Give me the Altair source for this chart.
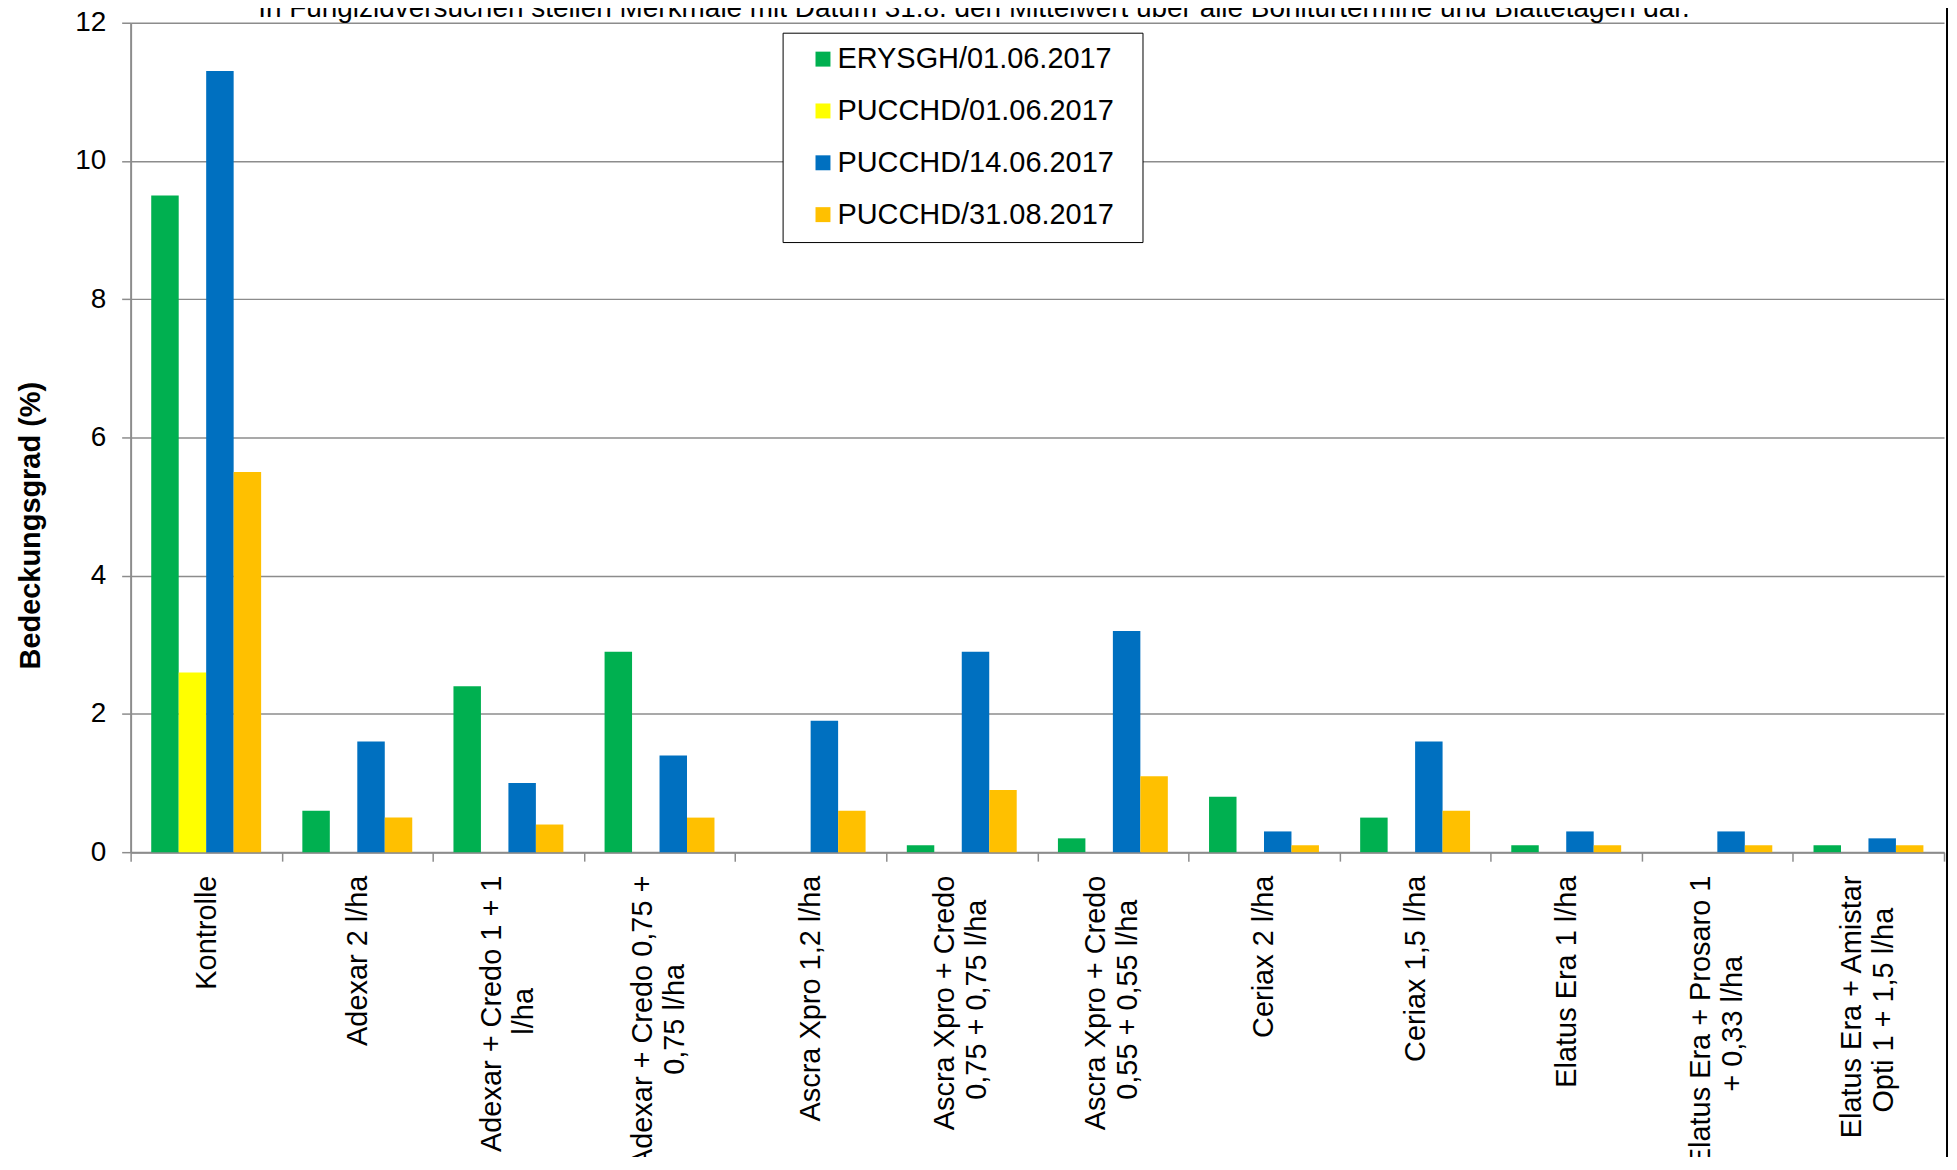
import json
import altair as alt
import pandas as pd

FONT = "Liberation Sans"
GRID = "#8C8C8C"
NB = "\u00a0"
ZW = "\u200b"

TITLE = ("In Fungizidversuchen stellen Merkmale mit Datum 31.8. den Mittelwert "
         "über alle Boniturtermine und Blattetagen dar.")

categories = [
    "Kontrolle",
    "Adexar 2 l/ha",
    "Adexar + Credo 1 + 1 l/ha",
    "Adexar + Credo 0,75 + 0,75 l/ha",
    "Ascra Xpro 1,2 l/ha",
    "Ascra Xpro + Credo 0,75 + 0,75 l/ha",
    "Ascra Xpro + Credo 0,55 + 0,55 l/ha",
    "Ceriax 2 l/ha",
    "Ceriax 1,5 l/ha",
    "Elatus Era 1 l/ha",
    "Elatus Era + Prosaro 1 + 0,33 l/ha",
    "Elatus Era + Amistar Opti 1 + 1,5 l/ha",
]
label_lines = [
    ["Kontrolle"],
    ["Adexar 2 l/ha"],
    ["Adexar + Credo 1 + 1", "l/ha"],
    ["Adexar + Credo 0,75 +", "0,75 l/ha"],
    ["Ascra Xpro 1,2 l/ha"],
    ["Ascra Xpro + Credo", "0,75 + 0,75 l/ha"],
    ["Ascra Xpro + Credo", "0,55 + 0,55 l/ha"],
    ["Ceriax 2 l/ha"],
    ["Ceriax 1,5 l/ha"],
    ["Elatus Era 1 l/ha"],
    ["Elatus Era + Prosaro 1", "+ 0,33 l/ha"],
    ["Elatus Era + Amistar", "Opti 1 + 1,5 l/ha"],
]
series = ["ERYSGH/01.06.2017", "PUCCHD/01.06.2017", "PUCCHD/14.06.2017", "PUCCHD/31.08.2017"]
colors = ["#00B050", "#FFFF00", "#0070C0", "#FFC000"]

erysgh_0106 = [9.5, 0.6, 2.4, 2.9, 0.0, 0.1, 0.2, 0.8, 0.5, 0.1, 0.0, 0.1]
pucchd_0106 = [2.6, 0.0, 0.0, 0.0, 0.0, 0.0, 0.0, 0.0, 0.0, 0.0, 0.0, 0.0]
pucchd_1406 = [11.3, 1.6, 1.0, 1.4, 1.9, 2.9, 3.2, 0.3, 1.6, 0.3, 0.3, 0.2]
pucchd_3108 = [5.5, 0.5, 0.4, 0.5, 0.6, 0.9, 1.1, 0.1, 0.6, 0.1, 0.1, 0.1]

rows = []
for s, vals in zip(series, [erysgh_0106, pucchd_0106, pucchd_1406, pucchd_3108]):
    for c, v in zip(categories, vals):
        rows.append({"Variante": c, "Serie": s, "Wert": v})
df = pd.DataFrame(rows)

# Arial / Liberation Sans advance widths (em/1000), used to centre the shorter
# line of a two-line rotated label on the longer one, as Excel does
ADV = {" ": 278, "+": 584, ",": 278, "/": 278, ".": 278, "A": 667, "C": 722,
       "E": 667, "K": 667, "O": 778, "P": 667, "X": 667, "a": 556, "c": 500,
       "d": 556, "e": 556, "h": 556, "i": 222, "l": 222, "m": 833, "n": 556,
       "o": 556, "p": 556, "r": 333, "s": 500, "t": 278, "u": 556, "x": 500}


def tw(s):
    return sum(ADV.get(ch, 556) for ch in s)


padded = []
for lines in label_lines:
    m = max(tw(l) for l in lines)
    out = []
    for l in lines:
        n = int(round((m - tw(l)) / 2 / 278))
        out.append(l + NB * n + ZW if n > 0 else l)
    padded.append(out)

two_line = [c for c, l in zip(categories, label_lines) if len(l) > 1]

label_expr = (json.dumps(padded, ensure_ascii=False) + "[indexof("
              + json.dumps(categories, ensure_ascii=False) + ", datum.value)]")
two_line_test = "indexof(" + json.dumps(two_line, ensure_ascii=False) + ", datum.value) >= 0"

W, H = 1819, 832

bars = alt.Chart(df).mark_bar().encode(
    x=alt.X(
        "Variante:N", sort=categories,
        scale=alt.Scale(paddingInner=0, paddingOuter=0),
        axis=alt.Axis(
            title=None, labelAngle=270, labelAlign="right",
            labelBaseline={"condition": {"test": two_line_test, "value": "line-bottom"},
                           "value": "middle"},
            labelFont=FONT, labelFontSize=29,
            labelColor="black", labelLineHeight=32, labelPadding=14,
            labelLimit=1000, labelOverlap=False, labelExpr=label_expr,
            tickBand="extent", tickSize=9, tickColor=GRID, tickWidth=1.5,
            domainColor=GRID, domainWidth=2, grid=False,
        ),
    ),
    xOffset=alt.XOffset("Serie:N", sort=series,
                        scale=alt.Scale(paddingInner=0, paddingOuter=0.75)),
    y=alt.Y(
        "Wert:Q", scale=alt.Scale(domain=[0, 12], nice=False),
        axis=alt.Axis(
            values=[0, 2, 4, 6, 8, 10, 12], format="d",
            title="Bedeckungsgrad (%)", titleFont=FONT, titleFontSize=29,
            titleFontWeight="bold", titleColor="black", titleAngle=270,
            titleX=-100, titleY=504, titleAlign="center", titleBaseline="middle",
            labelFont=FONT, labelFontSize=28, labelColor="black", labelPadding=16,
            tickSize=9, tickColor=GRID, tickWidth=1.5,
            domainColor=GRID, domainWidth=2, gridColor=GRID, gridWidth=1.5,
        ),
    ),
    color=alt.Color(
        "Serie:N", sort=series,
        scale=alt.Scale(domain=series, range=colors),
        legend=alt.Legend(
            orient="none", legendX=654, legendY=10, direction="vertical",
            title=None, fillColor="white", strokeColor="black",
            padding=12, rowPadding=22, symbolOffset=14, labelOffset=0,
            symbolType="square", symbolSize=225, symbolStrokeWidth=0,
            labelFont=FONT, labelFontSize=29, labelColor="black", labelLimit=1000,
            labelExpr="datum.label + '" + NB + NB + ZW + "'",
        ),
    ),
)

title_layer = alt.Chart(pd.DataFrame({"t": [TITLE]})).mark_text(
    font=FONT, fontSize=28, baseline="alphabetic", align="center", color="black"
).encode(text="t:N", x=alt.value(846), y=alt.value(-6))

border = alt.Chart(pd.DataFrame({"a": [0]})).mark_rule(
    color="black", strokeWidth=2
).encode(x=alt.value(1822), y=alt.value(-20), y2=alt.value(1200))

chart = alt.layer(bars, title_layer, border).properties(
    width=W, height=H,
    autosize=alt.AutoSizeParams(type="none"),
    padding={"left": 123, "top": 13, "right": 5, "bottom": 304},
).configure_view(stroke=None)

chart.save("out.html", embed_options={"renderer": "svg", "actions": False})
